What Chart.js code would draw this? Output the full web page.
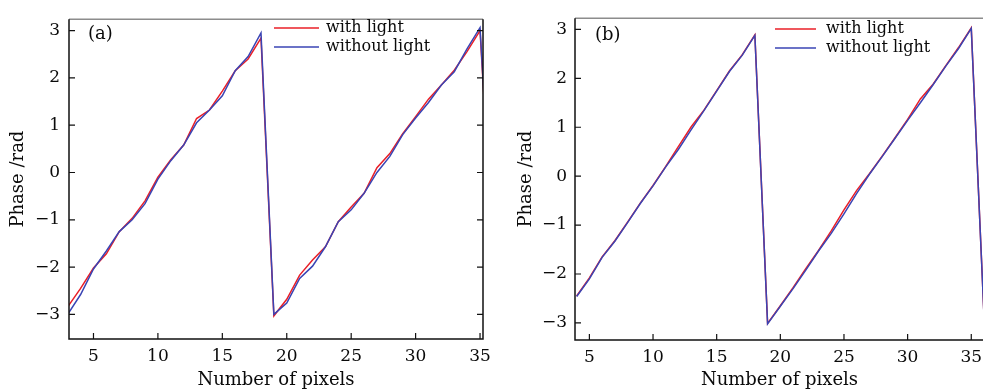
<!DOCTYPE html>
<html>
<head>
<meta charset="utf-8">
<script src="https://cdn.jsdelivr.net/npm/chart.js@4.4.0/dist/chart.umd.min.js"></script>
<style>
  html, body { margin: 0; padding: 0; background: #fff; overflow: hidden; }
  #wrap { position: relative; width: 983px; height: 391px; overflow: hidden; }
  #chartA { position: absolute; left: 0; top: 0; }
  #chartB { position: absolute; left: 493px; top: 0; }
</style>
</head>
<body>
<div id="wrap">
  <canvas id="chartA" width="505" height="391"></canvas>
  <canvas id="chartB" width="497" height="391"></canvas>
</div>
<script>
// Data (phase in rad per pixel index)
const pixelsA = [3, 4, 5, 6, 7, 8, 9, 10, 11, 12, 13, 14, 15, 16, 17, 18, 19, 20, 21, 22, 23, 24, 25, 26, 27, 28, 29, 30, 31, 32, 33, 34, 35, 36];
const withLightA = [-2.84, -2.45, -2.02, -1.72, -1.25, -0.97, -0.60, -0.10, 0.27, 0.58, 1.14, 1.32, 1.72, 2.15, 2.40, 2.84,
  -3.03, -2.68, -2.17, -1.85, -1.57, -1.04, -0.73, -0.44, 0.10, 0.40, 0.82, 1.18, 1.55, 1.85, 2.16, 2.56, 3.00, -1.70];
const withoutLightA = [-3.00, -2.58, -2.04, -1.66, -1.25, -1.00, -0.66, -0.14, 0.25, 0.58, 1.05, 1.32, 1.62, 2.15, 2.45, 2.95,
  -3.00, -2.76, -2.24, -1.98, -1.57, -1.04, -0.79, -0.44, 0.00, 0.34, 0.80, 1.15, 1.48, 1.85, 2.13, 2.62, 3.06, -1.65];

const pixelsB = [4, 5, 6, 7, 8, 9, 10, 11, 12, 13, 14, 15, 16, 17, 18, 19, 20, 21, 22, 23, 24, 25, 26, 27, 28, 29, 30, 31, 32, 33, 34, 35, 36];
const withLightB = [-2.45, -2.08, -1.65, -1.32, -0.94, -0.55, -0.19, 0.20, 0.61, 1.01, 1.35, 1.75, 2.15, 2.48, 2.89,
  -3.01, -2.65, -2.28, -1.89, -1.52, -1.12, -0.69, -0.29, 0.05, 0.41, 0.78, 1.16, 1.58, 1.88, 2.26, 2.63, 3.03, -2.85];
const withoutLightB = [-2.46, -2.10, -1.66, -1.33, -0.95, -0.56, -0.20, 0.19, 0.55, 0.95, 1.34, 1.74, 2.14, 2.47, 2.88,
  -3.02, -2.66, -2.30, -1.92, -1.53, -1.17, -0.77, -0.35, 0.04, 0.40, 0.77, 1.14, 1.50, 1.87, 2.25, 2.61, 3.02, -2.86];

const xTickValues = [5, 10, 15, 20, 25, 30, 35];
const yTickValues = [-3, -2, -1, 0, 1, 2, 3];
const seriesLabels = ["with light", "without light"];
const panelTags = ["(a)", "(b)"];

const RED = "#ea1f27";
const BLUE = "#3a44b4";
const FONT = "'DejaVu Serif', 'Liberation Serif', serif";
const INK = "#0a0a0a";

// frame, inward ticks, panel tag and legend
const framePlugin = {
  id: "frame",
  afterDraw(chart, args, opts) {
    const { ctx, chartArea: a, scales } = chart;
    ctx.save();
    ctx.lineWidth = 1.5;
    ctx.strokeStyle = "#8c8c8c";
    ctx.beginPath();
    ctx.moveTo(a.left, a.top);
    ctx.lineTo(a.right, a.top);
    ctx.stroke();

    ctx.strokeStyle = "#111";
    ctx.beginPath();
    ctx.moveTo(a.left, a.top);
    ctx.lineTo(a.left, a.bottom);
    ctx.lineTo(a.right, a.bottom);
    if (opts.rightBorder) ctx.lineTo(a.right, a.top);
    ctx.stroke();

    ctx.lineWidth = 1.2;
    ctx.beginPath();
    scales.y.ticks.forEach((t) => {
      const py = scales.y.getPixelForValue(t.value);
      ctx.moveTo(a.left, py);
      ctx.lineTo(a.left + 6, py);
      if (opts.rightBorder) {
        ctx.moveTo(a.right, py);
        ctx.lineTo(a.right - 6, py);
      }
    });
    scales.x.ticks.forEach((t) => {
      const px = scales.x.getPixelForValue(t.value);
      ctx.moveTo(px, a.bottom);
      ctx.lineTo(px, a.bottom - 6);
    });
    ctx.stroke();

    // panel tag
    ctx.fillStyle = INK;
    ctx.font = "18px " + FONT;
    ctx.textBaseline = "middle";
    ctx.textAlign = "left";
    ctx.fillText(opts.tag, opts.tagX, opts.tagY);

    // legend
    ctx.font = "16px " + FONT;
    chart.data.datasets.forEach((ds, i) => {
      const y = opts.legY + i * 19;
      ctx.strokeStyle = ds.borderColor;
      ctx.lineWidth = 1.5;
      ctx.beginPath();
      ctx.moveTo(opts.legX, y);
      ctx.lineTo(opts.legX + opts.legLen, y);
      ctx.stroke();
      ctx.fillStyle = INK;
      ctx.fillText(ds.label, opts.legX + opts.legLen + opts.legGap, y);
    });
    ctx.restore();
  },
};

function tickText(v) {
  return v < 0 ? "\u2212" + Math.abs(v) : String(v);
}

function makeChart(canvasId, xs, red, blue, cfg) {
  const ctx = document.getElementById(canvasId).getContext("2d");
  return new Chart(ctx, {
    type: "line",
    data: {
      datasets: [
        {
          label: seriesLabels[0],
          data: xs.map((x, i) => ({ x, y: red[i] })),
          borderColor: RED,
          borderWidth: 1.5,
          pointRadius: 0,
          tension: 0,
          order: 1,
        },
        {
          label: seriesLabels[1],
          data: xs.map((x, i) => ({ x, y: blue[i] })),
          borderColor: BLUE,
          borderWidth: 1.5,
          pointRadius: 0,
          tension: 0,
          order: 0,
        },
      ],
    },
    options: {
      responsive: false,
      animation: false,
      layout: { padding: { top: 11, right: cfg.padRight, left: 0, bottom: 0 } },
      plugins: {
        legend: { display: false },
        tooltip: { enabled: false },
        frame: cfg.frame,
      },
      scales: {
        x: {
          type: "linear",
          min: cfg.xMin,
          max: cfg.xMax,
          afterBuildTicks: (s) => { s.ticks = xTickValues.map((v) => ({ value: v })); },
          afterFit: (s) => { s.height = cfg.xAxisHeight; },
          grid: { display: false, drawTicks: false },
          border: { display: false },
          ticks: {
            font: { family: FONT, size: 17 },
            color: INK,
            padding: 7,
            maxRotation: 0,
            autoSkip: false,
            callback: tickText,
          },
          title: {
            display: true,
            text: "Number of pixels",
            font: { family: FONT, size: 18 },
            color: INK,
            padding: { top: 0, bottom: 0 },
          },
        },
        y: {
          type: "linear",
          min: cfg.yMin,
          max: cfg.yMax,
          afterBuildTicks: (s) => { s.ticks = yTickValues.map((v) => ({ value: v })); },
          afterFit: (s) => { s.width = cfg.yAxisWidth; },
          grid: { display: false, drawTicks: false },
          border: { display: false },
          ticks: {
            font: { family: FONT, size: 17 },
            color: INK,
            padding: cfg.yTickPad,
            callback: tickText,
          },
          title: {
            display: true,
            text: "Phase /rad",
            font: { family: FONT, size: 18 },
            color: INK,
            padding: { top: cfg.yTitlePad, bottom: 0 },
          },
        },
      },
    },
    plugins: [framePlugin],
  });
}

makeChart("chartA", pixelsA, withLightA, withoutLightA, {
  xMin: 3.1, xMax: 35.23, yMin: -3.52, yMax: 3.24,
  padRight: 22, xAxisHeight: 52, yAxisWidth: 69, yTickPad: 9, yTitlePad: 8,
  frame: { rightBorder: true, tag: panelTags[0], tagX: 88, tagY: 34, legX: 274, legY: 28, legLen: 45, legGap: 7 },
});

makeChart("chartB", pixelsB, withLightB, withoutLightB, {
  xMin: 3.87, xMax: 36.0, yMin: -3.35, yMax: 3.23,
  padRight: 6, xAxisHeight: 51, yAxisWidth: 82, yTickPad: 8, yTitlePad: 23,
  frame: { rightBorder: false, tag: panelTags[1], tagX: 102, tagY: 35, legX: 282, legY: 29, legLen: 41, legGap: 10 },
});
</script>
</body>
</html>
